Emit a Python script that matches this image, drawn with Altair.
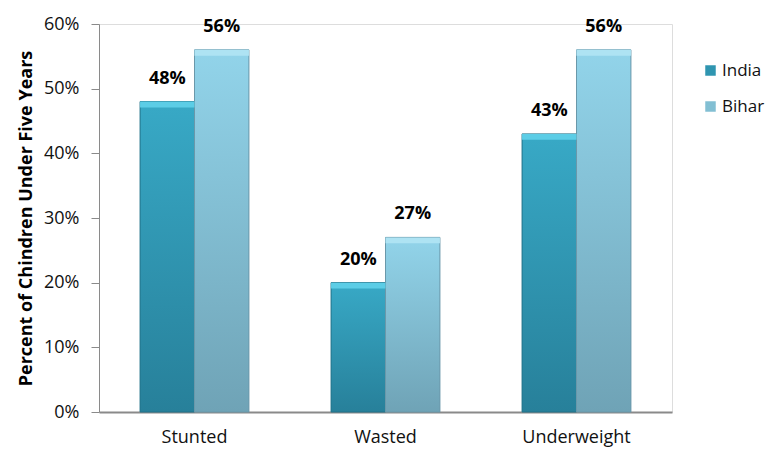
import altair as alt
import pandas as pd

# Child undernutrition: India vs Bihar
indicators = ["Stunted", "Wasted", "Underweight"]
series = ["India", "Bihar"]
india_values = [0.48, 0.20, 0.43]
bihar_values = [0.56, 0.27, 0.56]

rows = []
for i, ind in enumerate(indicators):
    rows.append({"indicator": ind, "series": "India", "value": india_values[i]})
    rows.append({"indicator": ind, "series": "Bihar", "value": bihar_values[i]})
df = pd.DataFrame(rows)

FONT = "Open Sans"

india_grad = {
    "gradient": "linear", "x1": 0, "y1": 0, "x2": 0, "y2": 1,
    "stops": [{"offset": 0, "color": "#38a9c6"}, {"offset": 1, "color": "#27809a"}],
}
bihar_grad = {
    "gradient": "linear", "x1": 0, "y1": 0, "x2": 0, "y2": 1,
    "stops": [{"offset": 0, "color": "#92d4ea"}, {"offset": 1, "color": "#6fa3b6"}],
}

x_enc = alt.X(
    "indicator:N", sort=indicators, title=None,
    scale=alt.Scale(paddingInner=0.43, paddingOuter=0.215),
    axis=alt.Axis(labelAngle=0, ticks=False, labelFontSize=18, labelFont=FONT,
                  labelColor="#111", labelPadding=16, domainColor="#8a8a8a",
                  domainWidth=2),
)
xoff = alt.XOffset("series:N", sort=series, scale=alt.Scale(paddingInner=0))
y_enc = alt.Y(
    "value:Q", title="Percent of Chindren Under Five Years",
    scale=alt.Scale(domain=[0, 0.6], nice=False),
    axis=alt.Axis(format=".0%", values=[0, 0.1, 0.2, 0.3, 0.4, 0.5, 0.6],
                  grid=False, labelFontSize=18, labelFont=FONT, labelColor="#111",
                  tickSize=8, tickColor="#8a8a8a", domainColor="#8a8a8a",
                  labelPadding=12, titleFont=FONT, titleFontSize=18,
                  titleFontWeight="bold", titleColor="#000", titlePadding=8),
)

base = alt.Chart(df)

# solid bars carry the legend
legend_bars = base.mark_bar().encode(
    x=x_enc, xOffset=xoff, y=y_enc,
    color=alt.Color(
        "series:N", sort=series, title=None,
        scale=alt.Scale(domain=series, range=["#2f95b0", "#82bfd3"]),
        legend=alt.Legend(orient="none", legendX=603, legendY=38,
                          symbolType="square", symbolSize=110,
                          symbolStrokeWidth=0, labelFont=FONT,
                          labelFontSize=17, labelColor="#111",
                          rowPadding=18, labelOffset=3),
    ),
)

# gradient-filled bars drawn over them
grad_bars = base.mark_bar(strokeWidth=1).encode(
    x=x_enc, xOffset=xoff, y=y_enc,
    fill=alt.condition(alt.datum.series == "India", alt.value(india_grad), alt.value(bihar_grad)),
    stroke=alt.condition(alt.datum.series == "India", alt.value("#23738a"), alt.value("#6a98aa")),
)

# lighter bevel strip along each bar top
bevel = base.transform_calculate(top2="datum.value - 0.009").mark_bar().encode(
    x=x_enc, xOffset=xoff, y=alt.Y("value:Q"), y2="top2:Q",
    fill=alt.condition(alt.datum.series == "India", alt.value("#5ccde6"), alt.value("#aee3f3")),
)

labels = base.mark_text(dy=-23, fontSize=18, fontWeight="bold", font=FONT, color="#000").encode(
    x=x_enc, xOffset=xoff, y=alt.Y("value:Q"),
    text=alt.Text("value:Q", format=".0%"),
)

chart = alt.layer(legend_bars, grad_bars, bevel, labels).properties(
    width=573, height=388,
    padding={"left": 99, "top": 24, "right": 100, "bottom": 38},
    autosize=alt.AutoSizeParams(type="none"),
).configure_view(stroke=None).configure(background="white")

chart.save("out.html", embed_options={"renderer": "svg", "actions": False})
